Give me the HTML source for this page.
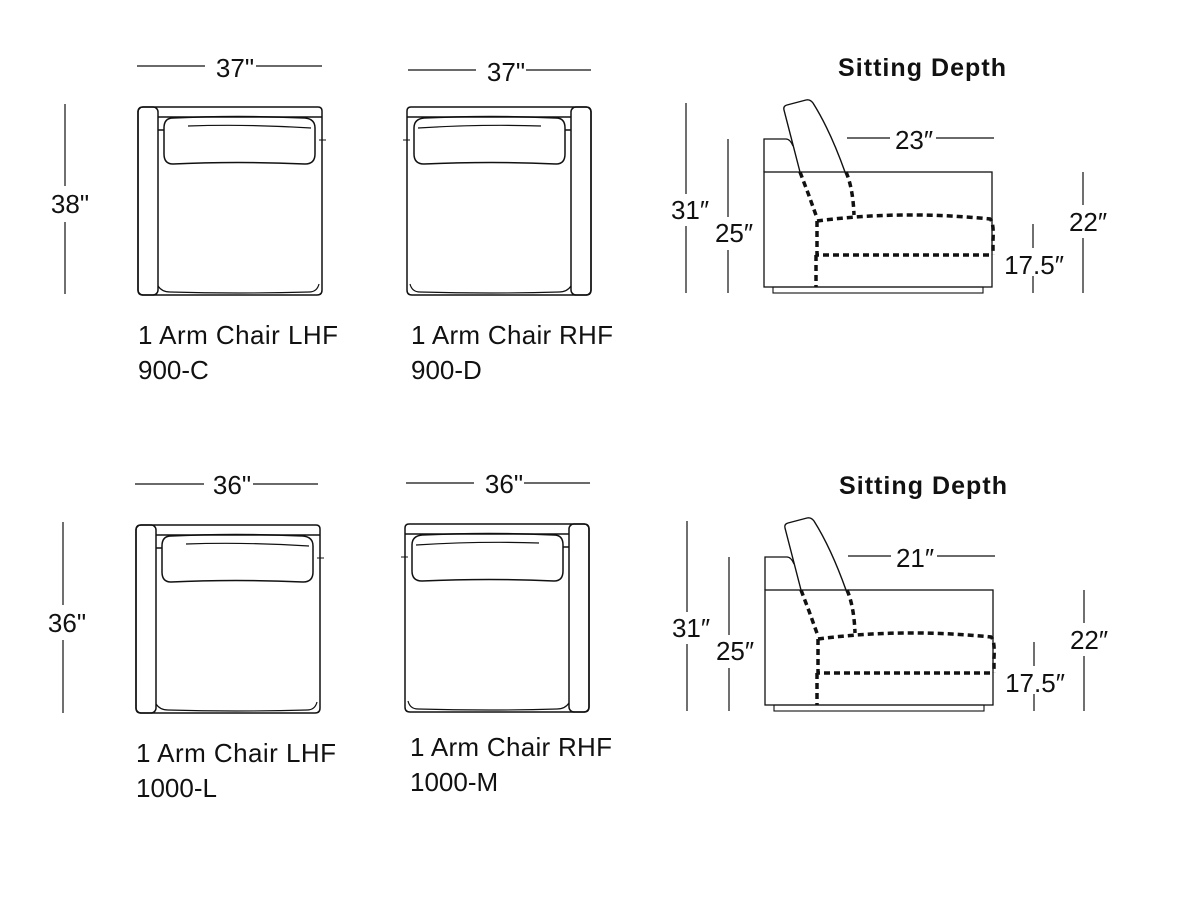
<!DOCTYPE html>
<html><head><meta charset="utf-8"><style>
html,body{margin:0;padding:0;background:#fff;}
svg{display:block}
text{font-family:"Liberation Sans",sans-serif;fill:#111;}
</style></head><body>
<svg width="1201" height="900" viewBox="0 0 1201 900" xmlns="http://www.w3.org/2000/svg">
<defs>
<g id="chairL" fill="none" stroke="#111" stroke-width="1.5">
  <path d="M6,1 H181 Q185,1 185,5 V184 Q185,189 180,189 H6 Q1,189 1,184 V6 Q1,1 6,1 Z"/>
  <rect x="1" y="1" width="20" height="188" rx="5"/>
  <line x1="21" y1="11" x2="185" y2="11"/>
  <path d="M36,12 Q100,9 168,12 Q178,13 178,22 V48 Q178,58 168,58 Q100,55 36,58 Q27,58 27,48 V22 Q27,12 36,12 Z"/>
  <path d="M51,20 Q110,18 174,22" stroke-width="1.2"/>
  <path d="M21,180 Q25,186 33,186 Q100,188 172,186 Q180,186 182,178" stroke-width="1.2"/>
  <line x1="21" y1="24" x2="27" y2="24"/>
  <line x1="182" y1="34" x2="189" y2="34" stroke-width="1"/>
</g>
<g id="side" fill="none" stroke="#111">
  <path d="M764,172 V139 H786 Q790,139 793,146" stroke-width="1.3"/>
  <rect x="764" y="172" width="228" height="115" stroke-width="1.3"/>
  <rect x="773" y="287" width="210" height="6" stroke-width="1.1"/>
  <path d="M800,172 L784,110 Q783,106 787,105 L806,100 Q810,99 813,103 Q830,130 845,172" stroke-width="1.4"/>
  <g stroke-width="3.5" stroke-dasharray="6,4">
    <path d="M800,172 L808,193 L817,218"/>
    <path d="M846,172 Q853,188 854,215"/>
    <path d="M817,221 Q900,210 990,219 Q994,222 993,240 V255"/>
    <path d="M817,221 V255 H993"/>
    <path d="M816,255 V287"/>
  </g>
</g>
</defs>

<line x1="137" y1="66" x2="205" y2="66" stroke="#111" stroke-width="1.2"/>
<line x1="256" y1="66" x2="322" y2="66" stroke="#111" stroke-width="1.2"/>
<text x="235" y="77" font-size="26" text-anchor="middle">37"</text>
<line x1="408" y1="70" x2="476" y2="70" stroke="#111" stroke-width="1.2"/>
<line x1="526" y1="70" x2="591" y2="70" stroke="#111" stroke-width="1.2"/>
<text x="506" y="81" font-size="26" text-anchor="middle">37"</text>
<line x1="65" y1="104" x2="65" y2="186" stroke="#111" stroke-width="1.2"/>
<line x1="65" y1="222" x2="65" y2="294" stroke="#111" stroke-width="1.2"/>
<text x="70" y="213" font-size="26" text-anchor="middle">38"</text>

<use href="#chairL" x="137" y="106"/>
<g transform="translate(592,106) scale(-1,1)"><use href="#chairL"/></g>

<text x="138" y="344" font-size="26" textLength="200">1 Arm Chair LHF</text>
<text x="138" y="379" font-size="26">900-C</text>
<text x="411" y="344" font-size="26" textLength="202">1 Arm Chair RHF</text>
<text x="411" y="379" font-size="26">900-D</text>

<text x="922" y="76" font-size="25" text-anchor="middle" font-weight="bold" textLength="168">Sitting Depth</text>
<use href="#side"/>
<g stroke="#111" stroke-width="1.2">
<line x1="686" y1="103" x2="686" y2="194"/><line x1="686" y1="226" x2="686" y2="293"/>
<line x1="728" y1="139" x2="728" y2="217"/><line x1="728" y1="250" x2="728" y2="293"/>
<line x1="847" y1="138" x2="890" y2="138"/><line x1="936" y1="138" x2="994" y2="138"/>
<line x1="1083" y1="172" x2="1083" y2="205"/><line x1="1083" y1="238" x2="1083" y2="293"/>
<line x1="1033" y1="224" x2="1033" y2="248"/><line x1="1033" y1="276" x2="1033" y2="293"/>
</g>
<text x="690" y="219" font-size="26" text-anchor="middle">31″</text>
<text x="734" y="242" font-size="26" text-anchor="middle">25″</text>
<text x="914" y="149" font-size="26" text-anchor="middle">23″</text>
<text x="1088" y="231" font-size="26" text-anchor="middle">22″</text>
<text x="1034" y="274" font-size="26" text-anchor="middle">17.5″</text>

<line x1="135" y1="484" x2="204" y2="484" stroke="#111" stroke-width="1.2"/>
<line x1="253" y1="484" x2="318" y2="484" stroke="#111" stroke-width="1.2"/>
<text x="232" y="494" font-size="26" text-anchor="middle">36"</text>
<line x1="406" y1="483" x2="474" y2="483" stroke="#111" stroke-width="1.2"/>
<line x1="524" y1="483" x2="590" y2="483" stroke="#111" stroke-width="1.2"/>
<text x="504" y="493" font-size="26" text-anchor="middle">36"</text>
<line x1="63" y1="522" x2="63" y2="605" stroke="#111" stroke-width="1.2"/>
<line x1="63" y1="640" x2="63" y2="713" stroke="#111" stroke-width="1.2"/>
<text x="67" y="632" font-size="26" text-anchor="middle">36"</text>

<use href="#chairL" x="135" y="524"/>
<g transform="translate(590,523) scale(-1,1)"><use href="#chairL"/></g>

<text x="136" y="762" font-size="26" textLength="200">1 Arm Chair LHF</text>
<text x="136" y="797" font-size="26">1000-L</text>
<text x="410" y="756" font-size="26" textLength="202">1 Arm Chair RHF</text>
<text x="410" y="791" font-size="26">1000-M</text>

<text x="923" y="494" font-size="25" text-anchor="middle" font-weight="bold" textLength="168">Sitting Depth</text>
<g transform="translate(1,418)"><use href="#side"/></g>
<g stroke="#111" stroke-width="1.2">
<line x1="687" y1="521" x2="687" y2="612"/><line x1="687" y1="644" x2="687" y2="711"/>
<line x1="729" y1="557" x2="729" y2="635"/><line x1="729" y1="668" x2="729" y2="711"/>
<line x1="848" y1="556" x2="891" y2="556"/><line x1="937" y1="556" x2="995" y2="556"/>
<line x1="1084" y1="590" x2="1084" y2="623"/><line x1="1084" y1="656" x2="1084" y2="711"/>
<line x1="1034" y1="642" x2="1034" y2="666"/><line x1="1034" y1="694" x2="1034" y2="711"/>
</g>
<text x="691" y="637" font-size="26" text-anchor="middle">31″</text>
<text x="735" y="660" font-size="26" text-anchor="middle">25″</text>
<text x="915" y="567" font-size="26" text-anchor="middle">21″</text>
<text x="1089" y="649" font-size="26" text-anchor="middle">22″</text>
<text x="1035" y="692" font-size="26" text-anchor="middle">17.5″</text>
</svg>
</body></html>
